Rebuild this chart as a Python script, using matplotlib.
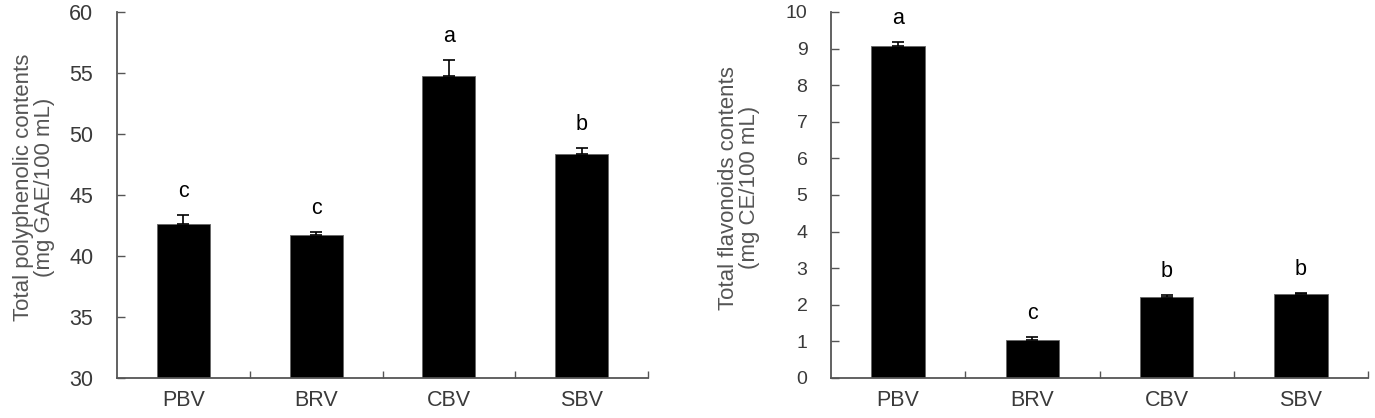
import matplotlib
matplotlib.use("Agg")
import matplotlib.pyplot as plt
import numpy as np

plt.rcParams['font.family'] = ['Liberation Sans', 'DejaVu Sans']

samples = ['PBV', 'BRV', 'CBV', 'SBV']

polyphenol = [42.65, 41.75, 54.75, 48.35]
polyphenol_err = [0.7, 0.25, 1.35, 0.5]
polyphenol_sig = ['c', 'c', 'a', 'b']

flavonoid = [9.07, 1.04, 2.20, 2.30]
flavonoid_err = [0.11, 0.07, 0.06, 0.03]
flavonoid_sig = ['a', 'c', 'b', 'b']

TXT = '#3a3a3a'
SPINE = '#555555'


def draw_panel(ax, vals, errs, sig, ylim, yticks, ylabel, ytick_size, label_x):
    x = np.arange(len(samples))
    ax.bar(x, vals, width=0.4, color='black', edgecolor='#666666', linewidth=0.6,
           yerr=[np.zeros(len(vals)), errs], capsize=4,
           error_kw=dict(ecolor='black', elinewidth=1.2, capthick=1.2), zorder=2)
    for xi, v, e, s in zip(x, vals, errs, sig):
        ax.annotate(s, (xi, v + e), xytext=(0, 13), textcoords='offset points',
                    ha='center', va='baseline', fontsize=15.5, color='black')
    ax.set_xlim(-0.5, 3.5)
    ax.set_ylim(*ylim)
    ax.set_yticks(yticks)
    ax.set_xticks([0.5, 1.5, 2.5, 3.5])
    ax.set_xticklabels([])
    ax.set_xticks(x, minor=True)
    ax.set_xticklabels(samples, minor=True)
    ax.tick_params(axis='x', which='major', direction='in', length=5, width=1, color=SPINE)
    ax.tick_params(axis='x', which='minor', length=0, pad=9, labelsize=15.5, labelcolor=TXT)
    ax.tick_params(axis='y', direction='in', length=6, width=1, color=SPINE,
                   pad=17, labelsize=ytick_size, labelcolor=TXT)
    for side in ['top', 'right']:
        ax.spines[side].set_visible(False)
    for side in ['left', 'bottom']:
        ax.spines[side].set_color(SPINE)
        ax.spines[side].set_linewidth(1.3)
    ax.set_ylabel(ylabel, fontsize=16, color='#555555', linespacing=1.0)
    ax.yaxis.set_label_coords(label_x, 0.52)


fig = plt.figure(figsize=(13.75, 4.18), dpi=100)
ax1 = fig.add_axes([0.0851, 0.0957, 0.3862, 0.8756])
ax2 = fig.add_axes([0.6044, 0.0957, 0.3905, 0.8756])

draw_panel(ax1, polyphenol, polyphenol_err, polyphenol_sig, (30, 60),
           np.arange(30, 61, 5), 'Total polyphenolic contents\n(mg GAE/100 mL)', 15.5, -0.117)
draw_panel(ax2, flavonoid, flavonoid_err, flavonoid_sig, (0, 10),
           np.arange(0, 11, 1), 'Total flavonoids contents\n(mg CE/100 mL)', 14, -0.132)

fig.savefig('out.png', dpi=100)
